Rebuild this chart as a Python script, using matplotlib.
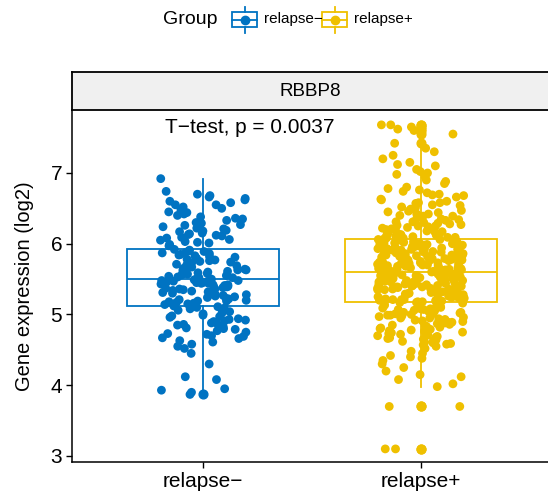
import matplotlib
matplotlib.use('Agg')
import matplotlib.pyplot as plt
from matplotlib.patches import Rectangle
from matplotlib.lines import Line2D
import numpy as np

plt.rcParams['font.family'] = ['Liberation Sans', 'DejaVu Sans']

groups = ['relapse\u2212', 'relapse+']
colors = ['#0073C2', '#EFC000']
gene = 'RBBP8'
ptext = 'T\u2212test, p = 0.0037'

# values (log2 expression), approximate
relapse_neg = [
    5.42, 6.12, 4.85, 5.71, 3.87, 5.28, 6.45, 5.63, 4.97, 5.19, 6.03, 5.88, 4.72, 5.36, 6.68, 5.55, 5.47, 6.21, 5.02, 5.79,
    6.92, 5.15, 4.63, 5.92, 5.33, 6.35, 5.58, 4.08, 5.09, 5.44, 6.01, 5.67, 4.91, 5.25, 6.55, 5.84, 5.49, 6.18, 4.79, 5.61,
    5.38, 6.27, 4.55, 5.74, 4.88, 5.21, 6.74, 5.52, 5.06, 5.45, 6.08, 5.81, 4.69, 5.30, 6.40, 5.65, 5.17, 6.62, 4.99, 5.90,
    4.93, 5.48, 6.15, 3.93, 5.76, 5.23, 6.50, 5.60, 4.81, 5.40, 6.05, 5.86, 5.12, 5.27, 6.33, 5.53, 4.66, 6.24, 5.34, 5.69,
    5.44, 6.70, 4.75, 5.82, 4.30, 5.18, 6.11, 5.57, 5.04, 5.39, 6.42, 5.73, 4.87, 5.31, 5.97, 5.64, 5.46, 6.58, 4.96, 5.89,
    6.30, 5.26, 4.61, 5.51, 3.90, 5.41, 6.64, 5.78, 4.90, 5.14, 6.19, 5.68, 5.10, 5.37, 6.02, 5.59, 4.77, 6.48, 5.22, 5.85,
    5.35, 6.09, 4.83, 5.66, 4.45, 5.20, 6.38, 5.54, 5.01, 5.43, 6.52, 5.91, 4.70, 5.29, 6.26, 5.75, 5.50, 6.14, 4.94, 5.62,
    6.60, 5.32, 4.67, 5.80, 3.95, 5.47, 6.22, 5.56, 4.98, 5.16, 6.36, 5.70, 4.86, 5.24, 6.06, 5.87, 5.08, 6.44, 5.39, 5.63,
    5.45, 6.17, 4.73, 5.72, 4.12, 5.28, 6.66, 5.58, 5.11, 5.36, 5.99, 5.83, 4.92, 5.19, 6.29, 5.52, 4.80, 6.13, 5.42, 5.77,
    4.52, 4.58, 6.55, 5.48,
]
relapse_pos = [
    5.21, 6.45, 4.62, 5.88, 3.10, 5.33, 6.02, 5.47, 4.95, 6.72, 5.70, 5.58, 4.81, 5.95, 7.68, 5.26, 6.25, 5.76, 5.08, 5.41,
    6.88, 5.18, 4.55, 5.67, 5.92, 3.10, 5.44, 6.31, 5.03, 5.55, 6.08, 4.74, 5.29, 7.55, 5.81, 6.15, 4.99, 5.62, 6.58, 5.37,
    5.74, 4.68, 6.22, 5.39, 3.70, 5.12, 6.04, 5.51, 6.95, 4.89, 5.85, 5.23, 6.63, 5.60, 7.62, 5.98, 4.58, 5.31, 6.37, 5.69,
    5.45, 6.09, 4.77, 5.79, 6.51, 3.70, 5.20, 5.57, 4.93, 6.18, 5.91, 5.35, 7.05, 5.14, 5.66, 6.80, 5.27, 4.64, 5.99, 5.50,
    6.27, 5.24, 4.86, 5.72, 5.48, 3.98, 6.12, 5.61, 5.01, 6.42, 5.84, 5.30, 7.30, 4.71, 5.93, 5.19, 6.70, 5.43, 5.07, 6.03,
    5.58, 4.52, 6.34, 5.36, 5.77, 4.02, 6.06, 5.22, 4.97, 6.55, 5.65, 5.46, 7.60, 4.83, 5.89, 6.21, 5.15, 5.53, 5.96, 6.85,
    5.32, 6.14, 4.69, 5.83, 5.40, 4.08, 6.47, 5.63, 4.91, 5.25, 6.00, 5.71, 7.20, 5.10, 6.29, 5.52, 4.60, 5.97, 6.66, 5.17,
    6.39, 5.49, 4.79, 5.68, 5.28, 4.15, 6.10, 5.86, 5.05, 6.76, 5.56, 5.38, 7.42, 4.66, 5.94, 6.24, 5.21, 5.73, 5.00, 6.01,
    5.62, 6.19, 4.88, 5.90, 5.34, 4.20, 6.60, 5.42, 4.94, 5.78, 6.05, 5.16, 7.65, 4.57, 5.66, 6.33, 5.27, 5.59, 6.90, 5.82,
    5.44, 4.73, 6.26, 5.75, 5.19, 4.25, 6.08, 5.54, 5.09, 6.49, 5.87, 5.31, 7.10, 4.85, 6.02, 5.64, 5.23, 6.17, 5.70, 4.98,
    6.11, 5.36, 4.63, 5.80, 5.50, 4.30, 6.40, 5.69, 4.96, 6.57, 5.92, 5.22, 7.35, 5.04, 5.61, 6.23, 5.46, 4.80, 5.99, 5.13,
    5.29, 6.36, 4.75, 5.71, 5.57, 4.35, 6.07, 5.40, 5.02, 6.69, 5.85, 5.18, 7.00, 4.90, 5.96, 6.13, 5.33, 5.67, 6.52, 5.49,
    5.55, 4.61, 6.20, 5.88, 5.26, 4.38, 6.04, 5.63, 4.87, 6.44, 5.76, 5.41, 7.25, 5.11, 5.93, 6.30, 5.20, 5.58, 5.72, 6.74,
    6.16, 5.47, 4.70, 5.79, 5.34, 4.42, 6.58, 5.60, 5.06, 6.03, 5.91, 5.24, 7.68, 4.84, 5.68, 6.28, 5.39, 5.52, 4.95, 5.98,
    5.37, 6.42, 4.78, 5.74, 5.51, 4.45, 6.09, 5.65, 4.99, 6.62, 5.83, 5.28, 7.15, 4.67, 6.01, 5.45, 5.15, 6.22, 5.81, 5.59,
    5.66, 5.19, 4.82, 5.95, 5.42, 4.48, 6.31, 5.53, 5.03, 6.11, 5.70, 5.35, 7.02, 4.59, 6.46, 5.86, 5.25, 5.62, 6.78, 5.08,
    6.06, 5.43, 4.65, 5.82, 5.30, 4.12, 6.54, 5.57, 4.92, 6.18, 5.89, 5.21, 7.12, 4.76, 5.97, 5.64, 5.48, 6.35, 5.73, 5.01,
    5.52, 6.25, 4.89, 5.77, 5.38, 4.40, 6.13, 5.61, 5.07, 6.68, 5.93, 5.17, 6.98, 4.72, 5.84, 6.39, 5.32, 5.55, 6.00, 5.44,
]
data = [relapse_neg, relapse_pos]

W, H = 548, 497
fig = plt.figure(figsize=(W / 100, H / 100), dpi=100)

def fx(px):
    return px / W

def fy(py):
    return (H - py) / H

ax = fig.add_axes([fx(72), fy(462), fx(552) - fx(72), fy(110) - fy(462)])
strip = fig.add_axes([fx(72), fy(110), fx(552) - fx(72), fy(72) - fy(110)])

# boxes + jittered points
for i, (vals, c) in enumerate(zip(data, colors)):
    ax.boxplot(vals, positions=[i + 1], widths=0.7, whis=1.5, patch_artist=True,
               boxprops=dict(facecolor='white', edgecolor=c, linewidth=1.3),
               medianprops=dict(color=c, linewidth=1.3),
               whiskerprops=dict(color=c, linewidth=1.3),
               capprops=dict(linewidth=0),
               flierprops=dict(marker='o', markersize=6.3, markerfacecolor=c,
                               markeredgecolor=c),
               zorder=2)
    idx = np.arange(len(vals)) + 1000 * i
    jit = (np.modf(np.abs(np.sin(idx * 12.9898 + 4.1) * 43758.5453))[0] - 0.5) * 0.4
    ax.scatter(i + 1 + jit, vals, s=40, color=c, edgecolors='none', zorder=3)

ax.set_xlim(0.4, 2.6)
ax.set_ylim(2.915, 7.89)
ax.set_xticks([1, 2])
ax.set_xticklabels(groups, fontsize=15)
ax.set_yticks([3, 4, 5, 6, 7])
ax.tick_params(axis='y', labelsize=15, length=4, width=1, pad=3)
ax.tick_params(axis='x', length=4, width=1, pad=3)
ax.set_ylabel('Gene expression (log2)', fontsize=14.5, labelpad=12)
for s in ['top', 'right']:
    ax.spines[s].set_visible(False)
for s in ['left', 'bottom']:
    ax.spines[s].set_linewidth(1.1)

ax.text(0.826, 7.636, ptext, fontsize=15, ha='left', va='center')

# facet strip
strip.set_facecolor('#F0F0F0')
strip.set_xticks([])
strip.set_yticks([])
for s in strip.spines.values():
    s.set_linewidth(1.3)
strip.text(0.5 - 2 / 480, 0.5, gene, transform=strip.transAxes,
           ha='center', va='center', fontsize=13.5)

# legend drawn by hand
fig.text(fx(163), fy(19), 'Group', fontsize=14, ha='left', va='center')
for x0, c, lab in [(232, colors[0], groups[0]), (322, colors[1], groups[1])]:
    fig.patches.append(Rectangle((fx(x0), fy(27)), fx(25), fy(12) - fy(27), transform=fig.transFigure,
                                 facecolor='white', edgecolor=c, linewidth=1.3))
    fig.lines.append(Line2D([fx(x0), fx(x0 + 25)], [fy(19.5), fy(19.5)], transform=fig.transFigure,
                            color=c, linewidth=1.3))
    fig.lines.append(Line2D([fx(x0 + 12.5)] * 2, [fy(12), fy(7)], transform=fig.transFigure,
                            color=c, linewidth=1.3))
    fig.lines.append(Line2D([fx(x0 + 12.5)] * 2, [fy(27), fy(33)], transform=fig.transFigure,
                            color=c, linewidth=1.3))
    fig.lines.append(Line2D([fx(x0 + 12.5)], [fy(19.5)], transform=fig.transFigure,
                            marker='o', markersize=6, color=c, linestyle='none'))
    fig.text(fx(x0 + 32), fy(19), lab, fontsize=11, ha='left', va='center')

fig.savefig('out.png', dpi=100)
